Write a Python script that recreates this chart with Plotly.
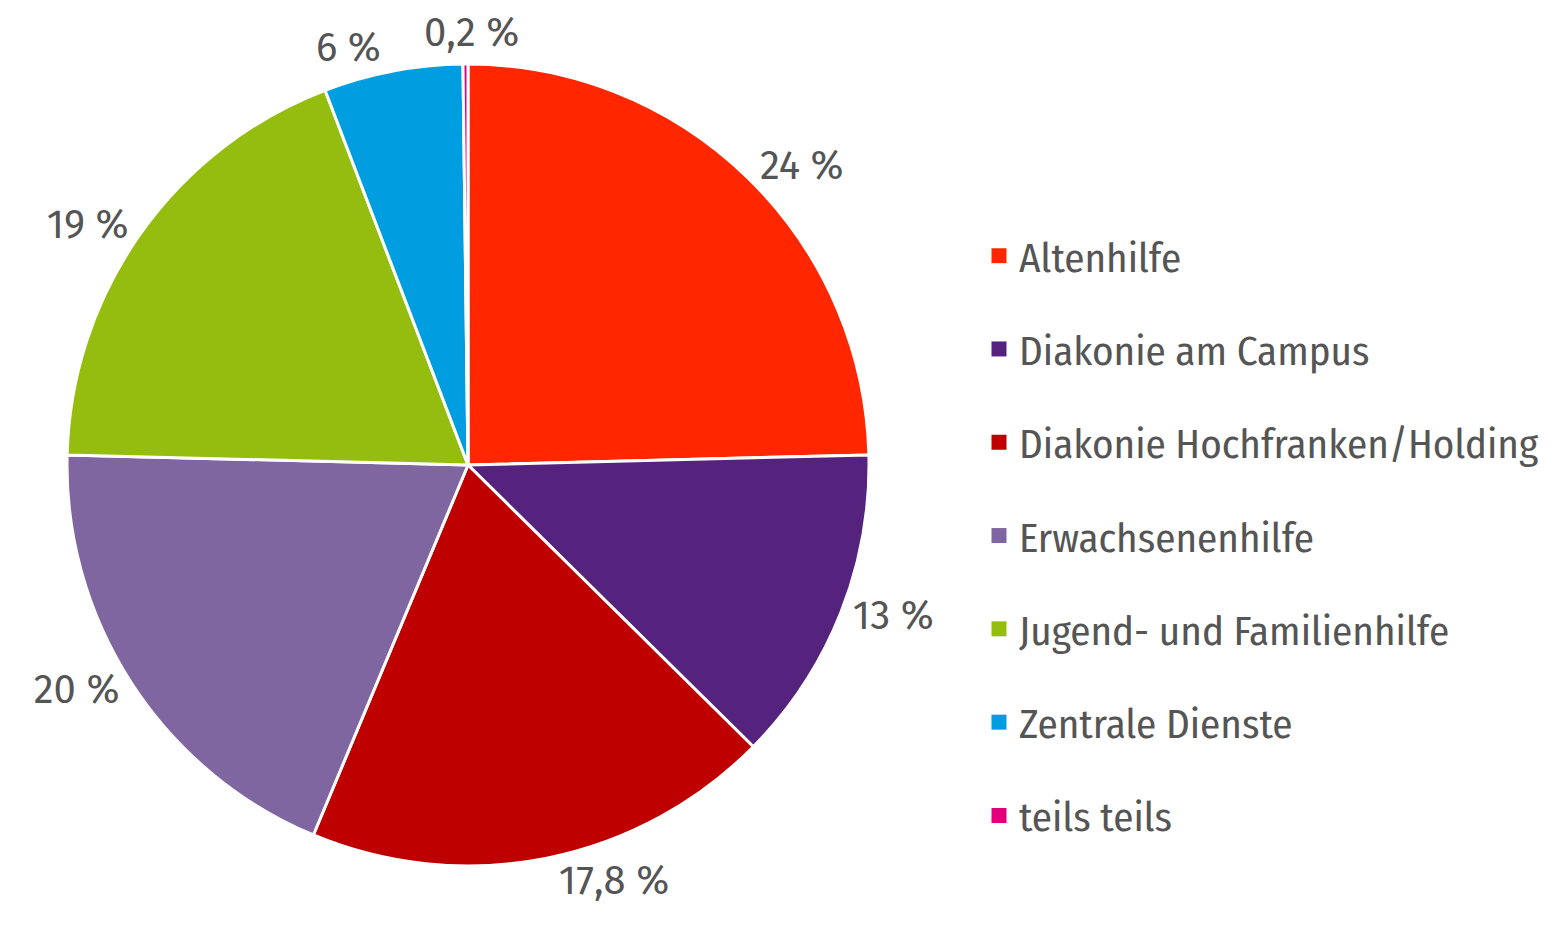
import plotly.graph_objects as go

# Data
categories = [
    "Altenhilfe",
    "Diakonie am Campus",
    "Diakonie Hochfranken/Holding",
    "Erwachsenenhilfe",
    "Jugend- und Familienhilfe",
    "Zentrale Dienste",
    "teils teils",
]
shares = [24.6, 12.8, 18.9, 19.1, 18.8, 5.6, 0.2]
share_labels = ["24 %", "13 %", "17,8 %", "20 %", "19 %", "6 %", "0,2 %"]
colors = ["#FF2600", "#55237E", "#BE0000", "#7F66A0", "#94BD10", "#009EE0", "#E2007A"]

LABEL_FONT = "Fira Sans, Roboto, sans-serif"
LEGEND_FONT = "Fira Sans Condensed, Fira Sans, Roboto, sans-serif"
W, H = 1555, 925

# the tiny slice gets its label as an annotation (plotly would push it off the top)
text_pos = ["outside" if s >= 1 else "none" for s in shares]

fig = go.Figure()

fig.add_trace(go.Pie(
    labels=categories,
    values=shares,
    text=share_labels,
    textinfo="text",
    textposition=text_pos,
    sort=False,
    direction="clockwise",
    rotation=0,
    automargin=False,
    marker=dict(colors=colors, line=dict(color="white", width=3)),
    outsidetextfont=dict(family=LABEL_FONT, size=40, color="#555555"),
    showlegend=False,
    domain=dict(x=[59 / W, 861 / W], y=[1 - 858 / H, 1 - 56 / H]),
))

# legend entries (separate groups so the spacing can be set)
for name, col in zip(categories, colors):
    fig.add_trace(go.Scatter(
        x=[None], y=[None],
        mode="markers",
        name=name,
        legendgroup=name,
        marker=dict(symbol="square", size=15, color=col),
    ))

for lab, s in zip(share_labels, shares):
    if s < 1:
        fig.add_annotation(
            text=lab, x=463 / W, y=1, xref="paper", yref="paper",
            xanchor="center", yanchor="top", showarrow=False, borderpad=0,
            font=dict(family=LABEL_FONT, size=40, color="#555555"),
        )

fig.update_layout(
    width=W,
    height=H,
    margin=dict(l=0, r=0, t=0, b=0, autoexpand=False),
    paper_bgcolor="white",
    plot_bgcolor="white",
    xaxis=dict(visible=False),
    yaxis=dict(visible=False),
    font=dict(family=LEGEND_FONT, color="#555555"),
    legend=dict(
        x=971 / W, xanchor="left",
        y=1 - 528 / H, yanchor="middle",
        font=dict(family=LEGEND_FONT, size=41, color="#555555"),
        tracegroupgap=37,
        bgcolor="rgba(0,0,0,0)",
    ),
)

fig.write_html("out.html")
